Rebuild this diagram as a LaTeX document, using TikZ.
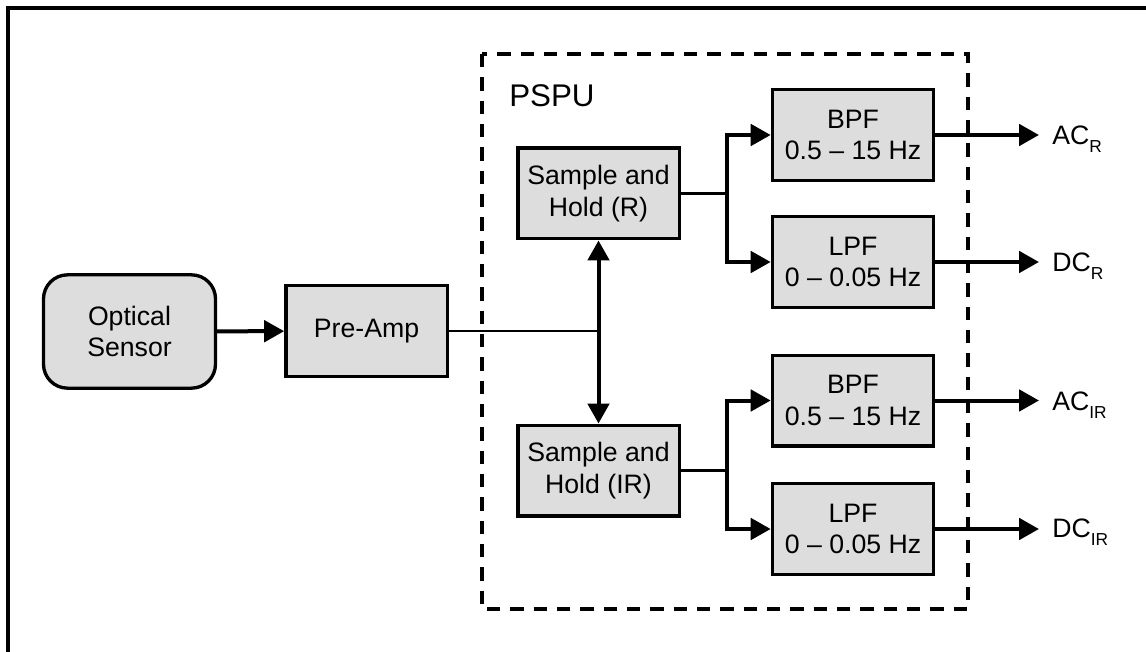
\documentclass[tikz,border=0pt]{standalone}
\usepackage{fontspec}
\setmainfont{Liberation Sans}
\usetikzlibrary{arrows.meta}
\definecolor{boxgray}{RGB}{221,221,221}
\newcommand{\lowidx}[1]{\raisebox{-0.3em}{\fontsize{13}{14}\selectfont #1}}

\begin{document}
\begin{tikzpicture}[>={Triangle[length=15pt,width=16pt]},x=0.75pt,y=0.75pt,
    block/.style={draw,line width=2.5pt,fill=boxgray,minimum width=121pt,minimum height=68pt,
      align=center,inner sep=2pt,font=\fontsize{20}{23.5}\selectfont},
    sensorbox/.style={block,rounded corners=18pt,minimum width=129pt,minimum height=85pt},
    wire/.style={line width=2pt},
    bus/.style={line width=3pt,line join=miter},
    outlabel/.style={anchor=base west,inner sep=0pt,font=\fontsize{20}{23.5}\selectfont}]
    \useasboundingbox (0,0) rectangle (1146,-652);
    % outer frame (only top and left show)
    \draw[line width=3pt] (8,-700) -- (8,-8) -- (1200,-8);
    % PSPU
    \draw[line width=3pt,dash pattern=on 10pt off 7.5pt] (482,-54) rectangle (968,-609);
    \node[anchor=base west,inner sep=0pt,font=\fontsize{23.5}{26}\selectfont] (pspu) at (509,-107) {PSPU};
    % blocks
    \node[sensorbox] (sensor) at (129.5,-331.5) {Optical\\Sensor};
    \node[block] (preamp) at (366.5,-331) {Pre-Amp};
    \node[block] (shr) at (598.5,-193.5) {Sample and\\Hold (R)};
    \node[block] (shir) at (598.5,-470.5) {Sample and\\Hold (IR)};
    \node[block] (bpfr) at (853,-135) {BPF\\0.5 – 15 Hz};
    \node[block] (lpfr) at (853,-262) {LPF\\0 – 0.05 Hz};
    \node[block] (bpfir) at (853,-400.5) {BPF\\0.5 – 15 Hz};
    \node[block] (lpfir) at (853,-529) {LPF\\0 – 0.05 Hz};
    % outputs
    \node[outlabel] (acr) at (1052,-144.5) {AC\lowidx{R}};
    \node[outlabel] (dcr) at (1052,-271.5) {DC\lowidx{R}};
    \node[outlabel] (acir) at (1052,-410.5) {AC\lowidx{IR}};
    \node[outlabel] (dcir) at (1052,-537.5) {DC\lowidx{IR}};
    % branch points
    \coordinate (jn) at (shr |- preamp);
    \coordinate (splitr) at (727,-193.5);
    \coordinate (splitir) at (727,-470.5);
    % connectors
    \draw[bus,->] (sensor) -- (preamp);
    \draw[wire] (preamp) -- (jn);
    \draw[bus,<->] (shr) -- (shir);
    \draw[wire] (shr) -- (splitr);
    \draw[bus,->] (splitr) |- (bpfr);
    \draw[bus,->] (splitr) |- (lpfr);
    \draw[wire] (shir) -- (splitir);
    \draw[bus,->] (splitir) |- (bpfir);
    \draw[bus,->] (splitir) |- (lpfir);
    \draw[bus,->,shorten >=9.75pt] (bpfr) -- (bpfr -| acr.west);
    \draw[bus,->,shorten >=9.75pt] (lpfr) -- (lpfr -| dcr.west);
    \draw[bus,->,shorten >=9.75pt] (bpfir) -- (bpfir -| acir.west);
    \draw[bus,->,shorten >=9.75pt] (lpfir) -- (lpfir -| dcir.west);
\end{tikzpicture}
\end{document}
